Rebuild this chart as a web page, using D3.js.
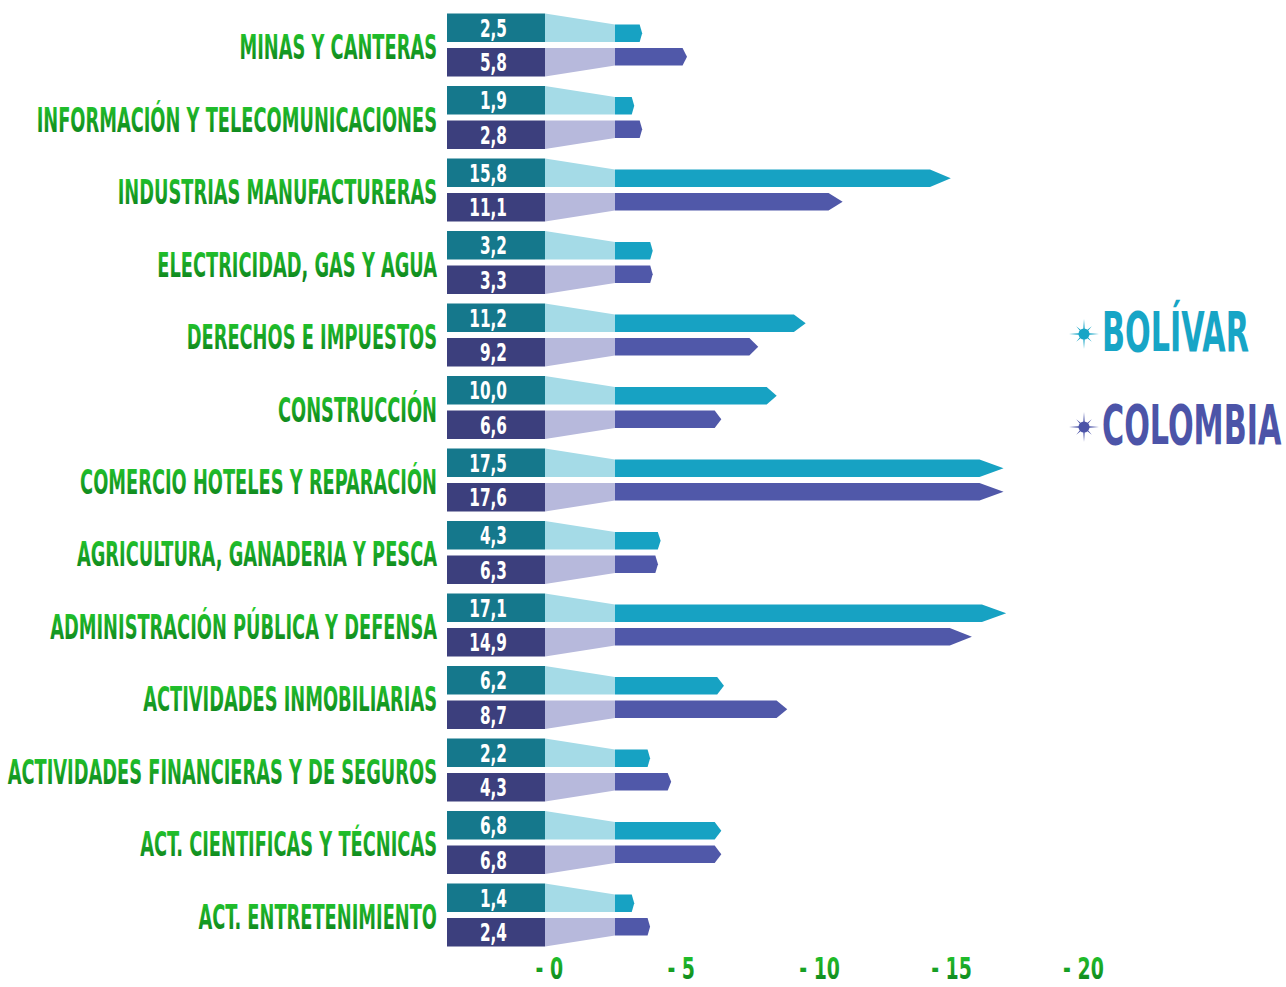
<!DOCTYPE html>
<html lang="es">
<head>
    <meta charset="UTF-8">
    <title>PIB por sectores - Bolívar y Colombia</title>
    <script src="https://d3js.org/d3.v7.min.js"></script>
    <style>
        body { margin: 0; background: #fff; }
        text { font-family: "DejaVu Sans Condensed", "Liberation Sans Narrow", sans-serif; font-weight: bold; }
    </style>
</head>
<body>
    <script>
        // datos
        const categories = [
            "MINAS Y CANTERAS",
            "INFORMACIÓN Y TELECOMUNICACIONES",
            "INDUSTRIAS MANUFACTURERAS",
            "ELECTRICIDAD, GAS Y AGUA",
            "DERECHOS E IMPUESTOS",
            "CONSTRUCCIÓN",
            "COMERCIO HOTELES Y REPARACIÓN",
            "AGRICULTURA, GANADERIA Y PESCA",
            "ADMINISTRACIÓN PÚBLICA Y DEFENSA",
            "ACTIVIDADES INMOBILIARIAS",
            "ACTIVIDADES FINANCIERAS Y DE SEGUROS",
            "ACT. CIENTIFICAS Y TÉCNICAS",
            "ACT. ENTRETENIMIENTO"
        ];
        const series = ["BOLÍVAR", "COLOMBIA"];

        // valores escritos en las cajas
        const bolivarValues = [2.5, 1.9, 15.8, 3.2, 11.2, 10.0, 17.5, 4.3, 17.1, 6.2, 2.2, 6.8, 1.4];
        const colombiaValues = [5.8, 2.8, 11.1, 3.3, 9.2, 6.6, 17.6, 6.3, 14.9, 8.7, 4.3, 6.8, 2.4];

        // largo de cada flecha, leido contra el eje de abajo
        const bolivarBars = [4.1, 3.8, 15.8, 4.5, 10.3, 9.2, 17.8, 4.8, 17.9, 7.2, 4.4, 7.1, 3.8];
        const colombiaBars = [5.8, 4.1, 11.7, 4.5, 8.5, 7.1, 17.8, 4.7, 16.6, 9.6, 5.2, 7.1, 4.4];

        const axisTicks = [0, 5, 10, 15, 20];

        const colors = {
            "BOLÍVAR": {box: "#15788c", light: "#a5dbe7", bar: "#17a2c3", text: "#17a5c6"},
            "COLOMBIA": {box: "#3c3f7d", light: "#b7b9dc", bar: "#5058a9", text: "#4c54a8"}
        };

        const width = 1286;
        const height = 987;

        const svg = d3.select("body").append("svg")
            .attr("width", width)
            .attr("height", height);

        const defs = svg.append("defs");
        const grad = defs.append("linearGradient")
            .attr("id", "greenText")
            .attr("x1", 0).attr("y1", 0).attr("x2", 0).attr("y2", 1);
        grad.append("stop").attr("offset", "0%").attr("stop-color", "#24cb2e");
        grad.append("stop").attr("offset", "100%").attr("stop-color", "#0c7c1c");

        const rows = categories.map((c, i) => ({
            category: c,
            values: [
                {name: "BOLÍVAR", label: bolivarValues[i], bar: bolivarBars[i]},
                {name: "COLOMBIA", label: colombiaValues[i], bar: colombiaBars[i]}
            ]
        }));

        const xScale = d3.scaleLinear()
            .domain([0, 20])
            .range([534, 1061.6]);

        const yScale = d3.scaleBand()
            .domain(categories)
            .range([13.5, 946.5])
            .paddingInner(0.131);

        const ySub = d3.scaleBand()
            .domain(series)
            .range([0, yScale.bandwidth()])
            .paddingInner(0.174);

        const locale = d3.formatLocale({decimal: ",", thousands: ".", grouping: [3], currency: ["", ""]});
        const fmt = locale.format(".1f");

        const boxLeft = 447;
        const boxRight = 545;
        const barStart = 615;
        const barRatio = 0.61;

        // etiquetas de categorias
        svg.append("g").selectAll("text")
            .data(rows)
            .enter()
            .append("text")
            .attr("transform", d => `translate(437,${yScale(d.category) + yScale.bandwidth() / 2 + 14}) scale(0.6,1)`)
            .attr("text-anchor", "end")
            .attr("font-size", 33)
            .attr("fill", "url(#greenText)")
            .text(d => d.category);

        const groups = svg.append("g").selectAll("g")
            .data(rows)
            .enter()
            .append("g")
            .attr("transform", d => `translate(0,${yScale(d.category)})`);

        const items = groups.selectAll("g")
            .data(d => d.values)
            .enter()
            .append("g")
            .attr("transform", d => `translate(0,${ySub(d.name)})`);

        const h = ySub.bandwidth();
        const bh = h * barRatio;

        // caja oscura
        items.append("rect")
            .attr("x", boxLeft)
            .attr("y", 0)
            .attr("width", boxRight - boxLeft)
            .attr("height", h)
            .attr("fill", d => colors[d.name].box);

        // trapecio claro
        items.append("path")
            .attr("d", d => {
                if (d.name === "BOLÍVAR") {
                    return `M${boxRight},0 L${barStart},${h - bh} L${barStart},${h} L${boxRight},${h} Z`;
                }
                return `M${boxRight},0 L${barStart},0 L${barStart},${bh} L${boxRight},${h} Z`;
            })
            .attr("fill", d => colors[d.name].light);

        // flecha
        items.append("path")
            .attr("d", d => {
                const end = xScale(d.bar);
                const tip = Math.max(2.5, 0.062 * (end - barStart));
                const top = d.name === "BOLÍVAR" ? h - bh : 0;
                const bot = top + bh;
                return `M${barStart},${top} L${end - tip},${top} L${end},${(top + bot) / 2} L${end - tip},${bot} L${barStart},${bot} Z`;
            })
            .attr("fill", d => colors[d.name].bar);

        // numero
        items.append("text")
            .attr("transform", `translate(507,${h / 2 + 9}) scale(0.68,1)`)
            .attr("text-anchor", "end")
            .attr("font-size", 25)
            .attr("fill", "#fff")
            .text(d => fmt(d.label));

        // eje
        const xAxis = d3.axisBottom(xScale)
            .tickValues(axisTicks)
            .tickSize(0)
            .tickFormat(d => "- " + d);

        const axisG = svg.append("g")
            .attr("transform", "translate(0,979)")
            .call(xAxis);
        axisG.select(".domain").remove();
        axisG.selectAll("text")
            .attr("y", 0)
            .attr("dy", 0)
            .attr("x", 1 / 0.7)
            .attr("transform", "scale(0.7,1)")
            .attr("text-anchor", "start")
            .attr("font-size", 30)
            .attr("font-family", null)
            .attr("fill", "url(#greenText)");

        // leyenda
        const legendY = d3.scaleOrdinal()
            .domain(series)
            .range([334, 427]);

        function starPath(outer, inner, diag) {
            const pts = [];
            for (let k = 0; k < 16; k++) {
                const a = k * Math.PI / 8 - Math.PI / 2;
                let r = inner;
                if (k % 2 === 0) r = (k / 2) % 2 === 0 ? outer : diag;
                pts.push([r * Math.cos(a), r * Math.sin(a)]);
            }
            return "M" + pts.map(p => p.join(",")).join("L") + "Z";
        }

        const legend = svg.append("g").selectAll("g")
            .data(series)
            .enter()
            .append("g")
            .attr("transform", d => `translate(1084,${legendY(d)})`);

        legend.append("path")
            .attr("d", starPath(15, 2.4, 11))
            .attr("fill", d => colors[d].text);
        legend.append("circle")
            .attr("r", 5.5)
            .attr("fill", d => colors[d].text);
        legend.append("text")
            .attr("transform", "translate(18,17) scale(0.6,1)")
            .attr("font-size", 56)
            .attr("fill", d => colors[d].text)
            .text(d => d);
    </script>
</body>
</html>
